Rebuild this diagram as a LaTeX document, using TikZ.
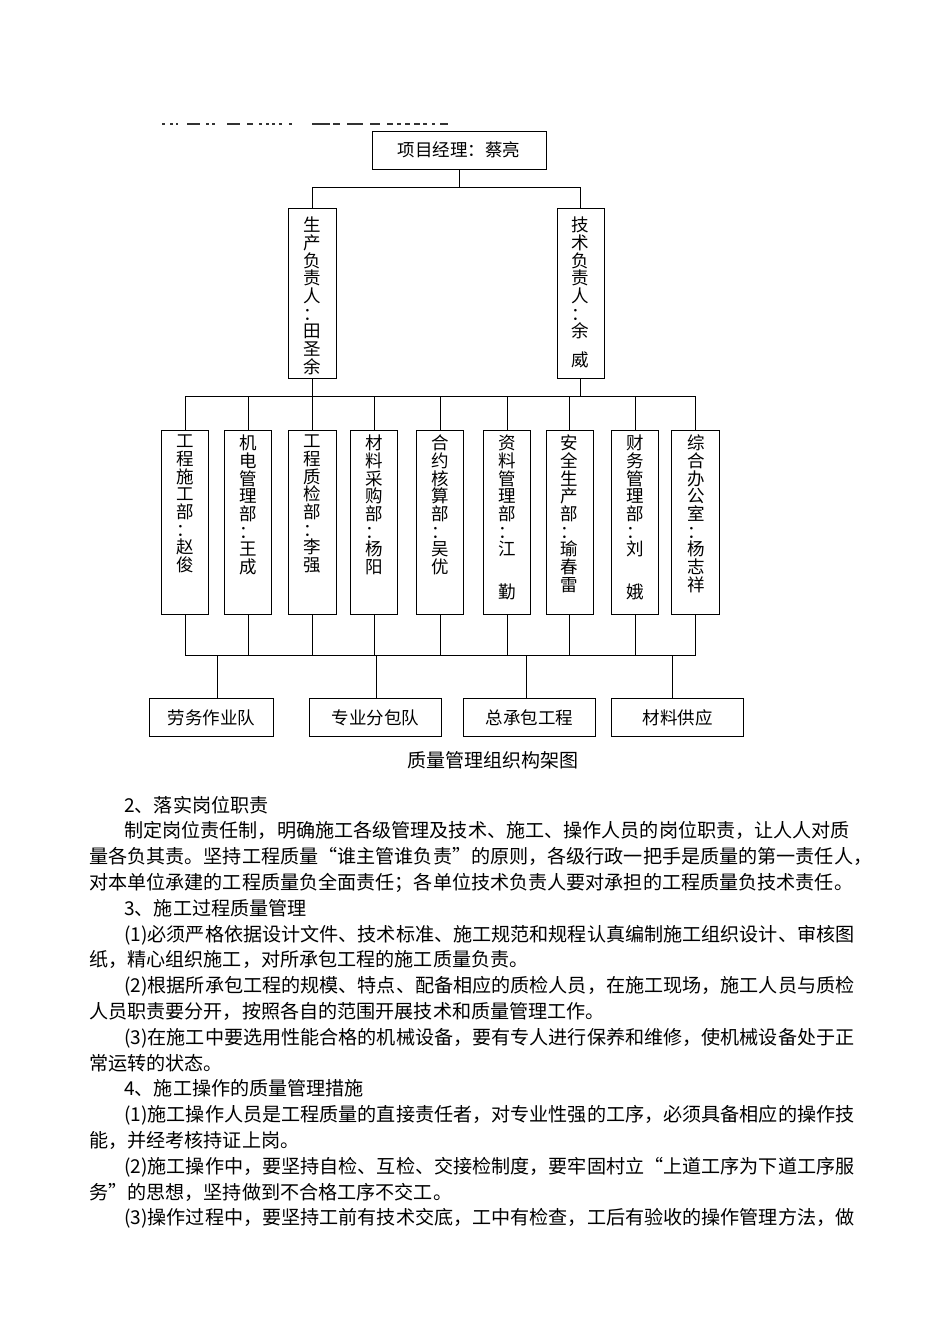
\documentclass[tikz,border=0pt]{standalone}
\usepackage{fontspec}
\setmainfont{Noto Sans CJK SC}
\XeTeXlinebreaklocale "zh"
\XeTeXlinebreakskip=0pt plus 3pt minus 1.2pt
\newcommand{\boxfont}{\fontsize{17.5}{17.7}\selectfont}
\newcommand{\bodyfont}{\fontsize{19.1}{25.8}\selectfont}
\newcommand{\vcol}[4]{\parbox[c][#1pt][t]{#2pt}{\centering\boxfont\vspace*{#3pt}#4\par}}
\tikzset{
  orgbox/.style={draw, line width=1pt, inner sep=0pt},
  hbox/.style={orgbox, font=\boxfont},
  conn/.style={line width=1pt},
  bodyline/.style={anchor=base west, inner sep=0pt},
  frag/.style={line width=1.3pt, black!80}
}
\newcommand{\jl}[4]{\node[bodyline] (#1) at (#2) {\bodyfont\hbox to #3pt{#4}};}
\newcommand{\nl}[3]{\node[bodyline] (#1) at (#2) {\bodyfont #3};}
\begin{document}
\begin{tikzpicture}[x=1pt,y=-1pt]
\useasboundingbox (0,0) rectangle (950,1344);
\fill[white] (0,0) rectangle (950,1344);
% clipped header line fragments
\foreach \a/\b in {162/165,170/173,176/178,187/200,206/209,212/215,227/240,247/253,259/262,266/269,272/275,279/282,289/292,312/330,333/340,347/363,370/380,387/393,397/401,405/410,414/420,423/427,432/435,440/448}
  \draw[frag] (\a,124) -- (\b,124);
% top
\node[hbox, minimum width=174pt, minimum height=38pt] (pm) at (459,150) {项目经理：蔡亮};
\node[orgbox] (lp) at (312.5,293) {\vcol{170}{48}{9}{生\\产\\负\\责\\人\\：\\田\\圣\\余}};
\node[orgbox] (rp) at (580.5,293) {\vcol{170}{47}{9}{技\\术\\负\\责\\人\\：\\余\\[11pt]威}};
% departments
\node[orgbox] (d1) at (185,522) {\vcol{184}{47}{5}{工\\程\\施\\工\\部\\：\\赵\\俊}};
\node[orgbox] (d2) at (248.3,522) {\vcol{184}{47}{5}{机\\电\\管\\理\\部\\：\\王\\成}};
\node[orgbox] (d3) at (312.7,522) {\vcol{184}{48}{5}{工\\程\\质\\检\\部\\：\\李\\强}};
\node[orgbox] (d4) at (374.2,522) {\vcol{184}{47}{5}{材\\料\\采\\购\\部\\：\\杨\\阳}};
\node[orgbox] (d5) at (440,522) {\vcol{184}{47}{5}{合\\约\\核\\算\\部\\：\\吴\\优}};
\node[orgbox] (d6) at (507.3,522) {\vcol{184}{47}{5}{资\\料\\管\\理\\部\\：\\江\\[25pt]勤}};
\node[orgbox] (d7) at (569.7,522) {\vcol{184}{47}{5}{安\\全\\生\\产\\部\\：\\瑜\\春\\雷}};
\node[orgbox] (d8) at (635.3,522) {\vcol{184}{47}{5}{财\\务\\管\\理\\部\\：\\刘\\[25pt]娥}};
\node[orgbox] (d9) at (695.8,522) {\vcol{184}{48}{5}{综\\合\\办\\公\\室\\：\\杨\\志\\祥}};
% lower boxes
\node[hbox, minimum width=124pt, minimum height=38pt] (lb1) at (211.3,717.5) {劳务作业队};
\node[hbox, minimum width=132pt, minimum height=38pt] (lb2) at (375.5,717.5) {专业分包队};
\node[hbox, minimum width=132pt, minimum height=38pt] (lb3) at (529.5,717.5) {总承包工程};
\node[hbox, minimum width=132pt, minimum height=38pt] (lb4) at (677.9,717.5) {材料供应};
% connectors top
\coordinate (busT) at (0,187);
\draw[conn] (pm.south) -- (pm.south |- busT);
\draw[conn] (lp.north) -- (lp.north |- busT) -- (rp.north |- busT) -- (rp.north);
% middle bus
\coordinate (busM) at (0,396);
\draw[conn] (lp.south) -- (lp.south |- busM);
\draw[conn] (rp.south) -- (rp.south |- busM);
\draw[conn] (d1.north |- busM) -- (d9.north |- busM);
\foreach \i in {1,...,9} \draw[conn] (d\i.north) -- (d\i.north |- busM);
% bottom bus
\coordinate (busB) at (0,655.7);
\foreach \i in {1,...,9} \draw[conn] (d\i.south) -- (d\i.south |- busB);
\draw[conn] (d1.south |- busB) -- (d9.south |- busB);
\coordinate (j1) at (217.3,655.7);
\coordinate (j2) at (376.7,655.7);
\coordinate (j3) at (526,655.7);
\coordinate (j4) at (672.3,655.7);
\foreach \i in {1,...,4} \draw[conn] (j\i) -- (j\i |- lb\i.north);
% caption
\node[inner sep=0pt, font=\fontsize{19}{19}\selectfont] (cap) at (493,760) {质量管理组织构架图};
% body text
\nl{t0}{124,812}{2、落实岗位职责}
\jl{t1}{124,837.8}{728}{制定岗位责任制，明确施工各级管理及技术、施工、操作人员的岗位职责，让人人对质}
\nl{t2}{89,863.6}{量各负其责。坚持工程质量“谁主管谁负责”的原则，各级行政一把手是质量的第一责任人，}
\jl{t3}{89,889.4}{763}{对本单位承建的工程质量负全面责任；各单位技术负责人要对承担的工程质量负技术责任。}
\nl{t4}{124,915.2}{3、施工过程质量管理}
\jl{t5}{124,941}{728}{(1)必须严格依据设计文件、技术标准、施工规范和规程认真编制施工组织设计、审核图}
\nl{t6}{89,966.8}{纸，精心组织施工，对所承包工程的施工质量负责。}
\jl{t7}{124,992.6}{728}{(2)根据所承包工程的规模、特点、配备相应的质检人员，在施工现场，施工人员与质检}
\nl{t8}{89,1018.4}{人员职责要分开，按照各自的范围开展技术和质量管理工作。}
\jl{t9}{124,1044.2}{728}{(3)在施工中要选用性能合格的机械设备，要有专人进行保养和维修，使机械设备处于正}
\nl{t10}{89,1070}{常运转的状态。}
\nl{t11}{124,1095.8}{4、施工操作的质量管理措施}
\jl{t12}{124,1121.6}{728}{(1)施工操作人员是工程质量的直接责任者，对专业性强的工序，必须具备相应的操作技}
\nl{t13}{89,1147.4}{能，并经考核持证上岗。}
\jl{t14}{124,1173.2}{728}{(2)施工操作中，要坚持自检、互检、交接检制度，要牢固村立“上道工序为下道工序服}
\nl{t15}{89,1199}{务”的思想，坚持做到不合格工序不交工。}
\jl{t16}{124,1224.8}{728}{(3)操作过程中，要坚持工前有技术交底，工中有检查，工后有验收的操作管理方法，做}
\end{tikzpicture}
\end{document}
